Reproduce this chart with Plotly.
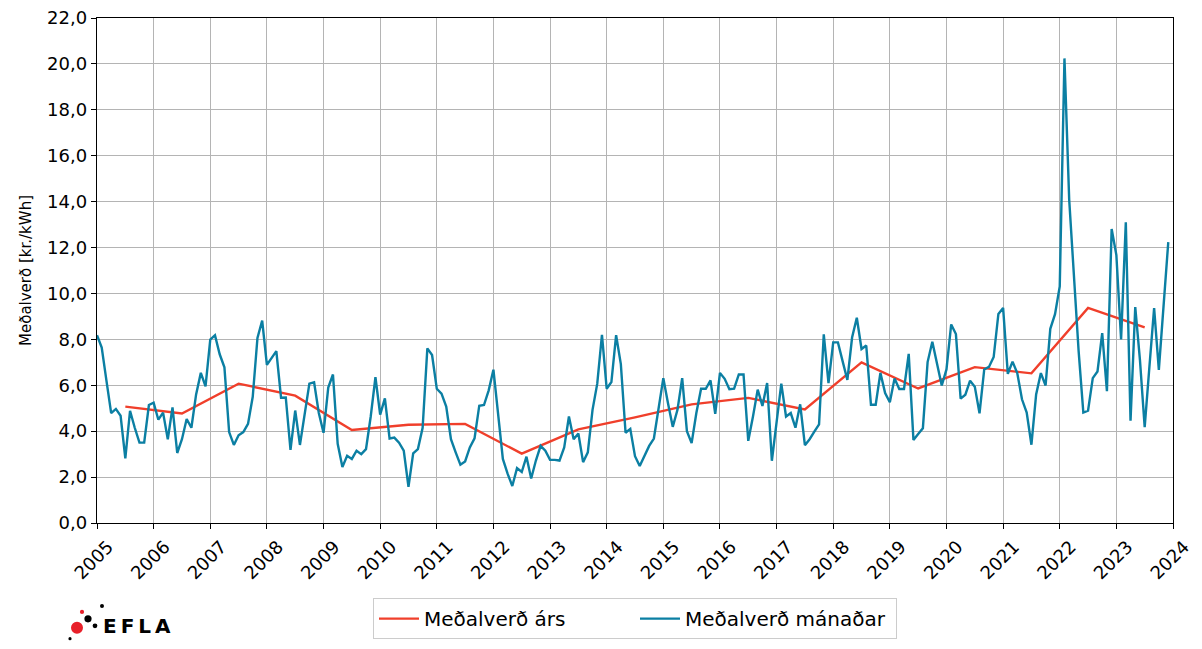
"""Average electricity price: monthly vs yearly."""

import plotly.graph_objects as go

# --- data -----------------------------------------------------------------
START_YEAR = 2005
YEARS = list(range(2005, 2024))

# yearly average, plotted at mid-year
YEARLY_AVG = [
    5.07, 4.77, 6.07, 5.55, 4.05, 4.28, 4.32, 3.02, 4.08, 4.60,
    5.17, 5.45, 4.95, 7.00, 5.86, 6.79, 6.52, 9.37, 8.52,
]

# monthly average, Jan 2005 .. Dec 2023
MONTHLY_AVG = [
    8.18, 7.64, 6.20, 4.79, 4.97, 4.67, 2.82, 4.89, 4.15, 3.50, 3.50, 5.14,    # 2005
    5.24, 4.50, 4.81, 3.65, 5.04, 3.05, 3.65, 4.53, 4.15, 5.60, 6.54, 5.95,    # 2006
    7.99, 8.18, 7.35, 6.78, 3.96, 3.40, 3.82, 3.96, 4.32, 5.50, 8.06, 8.82,    # 2007
    6.89, 7.18, 7.49, 5.46, 5.47, 3.19, 4.90, 3.40, 4.79, 6.07, 6.13, 4.79,    # 2008
    3.93, 5.90, 6.47, 3.45, 2.44, 2.93, 2.79, 3.15, 3.00, 3.22, 4.64, 6.35,    # 2009
    4.72, 5.43, 3.68, 3.72, 3.50, 3.15, 1.58, 3.03, 3.22, 4.15, 7.61, 7.32,    # 2010
    5.85, 5.64, 5.07, 3.65, 3.08, 2.54, 2.68, 3.29, 3.69, 5.11, 5.14, 5.78,    # 2011
    6.68, 4.64, 2.79, 2.15, 1.61, 2.39, 2.22, 2.89, 1.94, 2.72, 3.36, 3.15,    # 2012
    2.75, 2.75, 2.72, 3.29, 4.64, 3.65, 3.90, 2.65, 3.08, 4.93, 6.07, 8.20,    # 2013
    5.85, 6.14, 8.18, 6.92, 3.93, 4.10, 2.91, 2.48, 2.93, 3.36, 3.68, 4.93,    # 2014
    6.31, 5.21, 4.19, 4.93, 6.31, 4.00, 3.48, 4.79, 5.85, 5.85, 6.21, 4.76,    # 2015
    6.54, 6.28, 5.83, 5.85, 6.47, 6.47, 3.58, 4.64, 5.81, 5.10, 6.10, 2.71,    # 2016
    4.50, 6.07, 4.64, 4.79, 4.15, 5.17, 3.39, 3.65, 3.98, 4.30, 8.22, 6.09,    # 2017
    7.87, 7.87, 7.04, 6.23, 8.08, 8.94, 7.58, 7.73, 5.15, 5.15, 6.54, 5.66,    # 2018
    5.26, 6.30, 5.84, 5.84, 7.37, 3.62, 3.88, 4.13, 7.01, 7.90, 6.94, 5.99,    # 2019
    6.69, 8.65, 8.23, 5.42, 5.59, 6.20, 5.94, 4.78, 6.69, 6.80, 7.23, 9.11,    # 2020
    9.37, 6.50, 7.03, 6.53, 5.39, 4.81, 3.41, 5.60, 6.53, 5.99, 8.46, 9.10,    # 2021
    10.31, 20.24, 14.10, 10.80, 7.50, 4.81, 4.89, 6.31, 6.60, 8.27, 5.74, 12.81,  # 2022
    11.67, 8.00, 13.10, 4.46, 9.41, 7.10, 4.17, 6.80, 9.36, 6.67, 9.46, 12.24,  # 2023
]

X_TICKS = list(range(2005, 2025))
Y_TICKS = list(range(0, 23, 2))

RED = "#f03f2b"
BLUE = "#0b7fa3"
GRID = "#b4b4b4"
FONT = "DejaVu Sans"

# the page body has an 8 px margin, so the figure is shrunk and shifted by it
BODY = 8
FIG_W, FIG_H = 1202 - BODY, 649 - BODY
PLOT_L, PLOT_R, PLOT_T, PLOT_B = 97, 1173, 18, 529   # plot area in window px
PW, PH = PLOT_R - PLOT_L, PLOT_B - PLOT_T

# x positions in decimal years
month_x = [START_YEAR + i / 12 for i in range(len(MONTHLY_AVG))]
year_x = [y + 0.5 for y in YEARS]

fig = go.Figure()
fig.add_trace(
    go.Scatter(
        x=year_x,
        y=YEARLY_AVG,
        mode="lines",
        name="Meðalverð árs",
        line=dict(color=RED, width=2.4),
    )
)
fig.add_trace(
    go.Scatter(
        x=month_x,
        y=MONTHLY_AVG,
        mode="lines",
        name="Meðalverð mánaðar",
        line=dict(color=BLUE, width=2.4),
    )
)

axis_common = dict(
    showgrid=True,
    gridcolor=GRID,
    gridwidth=1.2,
    showline=True,
    linecolor="black",
    linewidth=1.4,
    mirror=True,
    ticks="outside",
    ticklen=5,
    tickwidth=1.2,
    tickcolor="black",
    zeroline=False,
    automargin=False,
    ticklabeloverflow="allow",
    tickfont=dict(family=FONT, size=18, color="black"),
)

fig.update_xaxes(
    range=[2005, 2024],
    tickvals=X_TICKS,
    ticktext=[str(t) for t in X_TICKS],
    tickangle=-45,
    ticklabelshift=11,
    ticklabelstandoff=0,
    **axis_common,
)
fig.update_yaxes(
    range=[0, 22],
    tickvals=Y_TICKS,
    tickformat=".1f",
    title=dict(text="Meðalverð [kr./kWh]", font=dict(family=FONT, size=15, color="black"), standoff=11),
    **axis_common,
)


def to_paper(px, py):
    """Window pixel -> paper coords of the plot area."""
    return (px - PLOT_L) / PW, (PLOT_B - py) / PH


# EFLA logo: a cluster of dots plus the wordmark
dots = [  # (x_px, y_px, r_px, colour) in window px
    (77, 635, 6.0, "#e8202a"),
    (88, 626, 3.6, "black"),
    (82, 619, 2.1, "#e8202a"),
    (102, 613, 2.0, "black"),
    (95, 633, 2.4, "black"),
    (70, 646, 1.6, "black"),
]
for px, py, r, col in dots:
    cx, cy = to_paper(px, py)
    fig.add_shape(
        type="circle", xref="paper", yref="paper",
        x0=cx - r / PW, x1=cx + r / PW, y0=cy - r / PH, y1=cy + r / PH,
        fillcolor=col, line=dict(width=0),
    )
lx, ly = to_paper(101, 633)
fig.add_annotation(
    x=lx, y=ly, xref="paper", yref="paper",
    text="<b>E\u2009F\u2009L\u2009A</b>", showarrow=False, xanchor="left", yanchor="middle",
    font=dict(family=FONT, size=20, color="black"),
)

# legend box must stay inside the figure or plotly shrinks the plot to fit it
leg_x, leg_y = to_paper(635, 605)
fig.update_layout(
    width=FIG_W,
    height=FIG_H,
    margin=dict(l=PLOT_L - BODY, r=FIG_W - (PLOT_R - BODY), t=PLOT_T - BODY, b=FIG_H - (PLOT_B - BODY)),
    plot_bgcolor="white",
    paper_bgcolor="white",
    separators=",.",
    font=dict(family=FONT, color="black"),
    showlegend=True,
    legend=dict(
        orientation="h",
        x=leg_x,
        xanchor="center",
        y=leg_y,
        yanchor="top",
        bordercolor="#cccccc",
        borderwidth=1,
        font=dict(family=FONT, size=20, color="black"),
        itemwidth=40,
        entrywidth=206,
        entrywidthmode="pixels",
    ),
)

fig.write_html("out.html")
